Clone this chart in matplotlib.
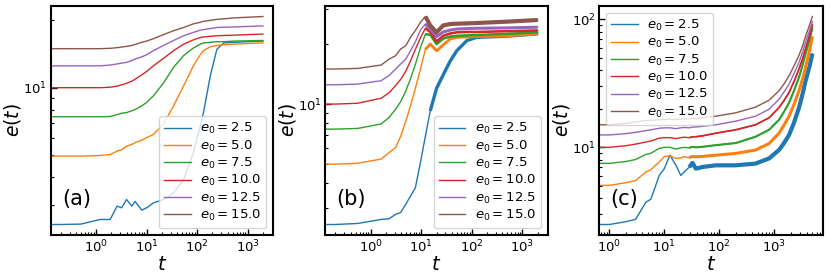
import matplotlib.pyplot as plt
import numpy as np
from matplotlib.ticker import NullFormatter

labels = [r"$e_0 = 2.5$", r"$e_0 = 5.0$", r"$e_0 = 7.5$",
          r"$e_0 = 10.0$", r"$e_0 = 12.5$", r"$e_0 = 15.0$"]

# panel (a)
t_a = [0, 0.2, 0.5, 1.2, 1.9, 2.6, 3.2, 4, 5.1, 5.9, 8, 10, 13.6, 21.6, 34, 54,
       84, 115, 133, 182, 245, 335, 525, 2000]
blue_a = [2.47, 2.47, 2.48, 2.6, 2.6, 2.98, 2.93, 3.19, 2.98, 3.13, 2.86, 2.93,
          3.08, 3.19, 3.41, 3.91, 5.14, 6.76, 7.74, 11.3, 14.8, 15.8, 15.9, 16.1]
orange_a = [4.97, 4.97, 4.97, 5.0, 5.05, 5.23, 5.3, 5.5, 5.6, 5.7, 5.85, 6.0,
            6.2, 6.9, 8.3, 10.2, 12.5, 14.0, 14.6, 15.2, 15.4, 15.5, 15.6, 15.8]
green_a = [7.43, 7.43, 7.43, 7.43, 7.45, 7.6, 7.7, 7.75, 7.9, 8.0, 8.3, 8.6,
           9.2, 10.5, 12.3, 13.9, 15.0, 15.6, 15.8, 15.9, 16.0, 16.0, 16.1, 16.2]
red_a = [10.0, 10.0, 10.0, 10.0, 10.05, 10.15, 10.3, 10.45, 10.7, 10.9, 11.4, 11.8,
         12.5, 13.5, 14.6, 15.6, 16.3, 16.7, 16.8, 16.9, 17.0, 17.05, 17.1, 17.3]
purple_a = [12.5, 12.5, 12.5, 12.5, 12.6, 12.75, 12.85, 12.95, 13.2, 13.4, 13.7, 14.0,
            14.6, 15.4, 16.2, 17.0, 17.6, 18.0, 18.1, 18.3, 18.5, 18.55, 18.6, 18.8]
brown_a = [14.9, 14.9, 14.9, 14.9, 14.95, 15.05, 15.15, 15.25, 15.4, 15.55, 15.9, 16.1,
           16.5, 17.2, 17.9, 18.5, 19.2, 19.5, 19.7, 19.9, 20.1, 20.2, 20.4, 20.7]

# panel (b)
t_b = [0, 0.2, 0.55, 1.6, 2.3, 3.1, 3.9, 4.9, 6.1, 7.6, 9.6, 12, 15, 20, 27, 37,
       50, 79, 123, 480, 2000]
blue_b = [2.49, 2.49, 2.52, 2.64, 2.66, 2.8, 2.86, 3.14, 3.46, 3.8, 5.1, 6.9,
          9.25, 12.0, 14.0, 16.4, 18.5, 20.8, 21.6, 21.9, 22.5]
orange_b = [5.0, 5.0, 5.05, 5.3, 5.72, 6.05, 6.9, 8.2, 9.8, 12.0, 15.0, 18.8,
            20.0, 18.5, 19.8, 21.2, 21.6, 21.7, 21.8, 22.0, 22.5]
green_b = [7.49, 7.49, 7.55, 7.95, 8.57, 9.44, 10.3, 11.6, 13.4, 15.8, 19.2, 22.4,
           22.3, 20.0, 21.3, 21.8, 22.0, 22.1, 22.2, 22.5, 22.9]
red_b = [10.0, 10.0, 10.1, 10.7, 11.4, 12.4, 13.3, 14.6, 16.5, 18.8, 21.5, 24.0,
         23.0, 20.6, 22.0, 22.6, 22.9, 23.0, 23.0, 23.2, 23.4]
purple_b = [12.5, 12.5, 12.6, 13.1, 13.9, 15.0, 15.9, 16.8, 18.5, 20.5, 23.5, 25.2,
            23.8, 21.8, 23.0, 23.5, 23.8, 23.9, 24.0, 24.1, 24.3]
brown_b = [15.0, 15.0, 15.1, 15.7, 16.8, 17.5, 18.9, 19.6, 21.6, 23.4, 25.7, 27.5,
           24.8, 22.9, 24.8, 25.2, 25.3, 25.4, 25.5, 25.9, 26.4]

# panel (c)
t_c = [0, 1, 2, 3, 4.6, 5.7, 8.1, 10, 12.7, 16.3, 20, 23, 28.5, 32.7, 37.6, 50,
       87, 200, 460, 810, 1230, 1500, 1880, 2300, 2850, 3300, 3760, 4400, 5000]
blue_c = [2.5, 2.5, 2.63, 2.74, 3.72, 3.94, 6.04, 6.82, 8.7, 7.24, 6.04, 6.42, 7.0,
          7.57, 6.82, 7.03, 7.24, 7.24, 7.47, 8.19, 9.53, 10.7, 12.5, 15.5, 20.4,
          25.9, 33.1, 42.2, 53.8]
orange_c = [5.03, 5.05, 5.3, 5.5, 6.41, 6.7, 7.7, 8.44, 8.6, 8.19, 8.3, 8.44, 8.3,
            8.5, 8.44, 8.5, 8.69, 8.97, 9.53, 10.7, 12.9, 14.8, 17.5, 21.5, 27.6,
            34.0, 42.2, 56.0, 73.0]
green_c = [7.47, 7.5, 7.75, 8.04, 8.8, 9.0, 9.82, 10.0, 10.0, 9.7, 9.9, 10.0, 9.9,
           10.1, 10.0, 10.1, 10.4, 10.8, 12.1, 13.7, 16.4, 18.8, 22.3, 27.5, 35.2,
           43.5, 53.8, 68.5, 85.0]
red_c = [10.0, 10.0, 10.3, 10.6, 11.0, 11.2, 11.8, 11.9, 11.9, 11.7, 11.9, 12.0, 11.9,
         12.1, 12.1, 12.3, 12.9, 13.7, 15.0, 17.0, 20.4, 23.0, 26.8, 32.5, 40.9,
         49.0, 58.9, 74.0, 90.2]
purple_c = [12.5, 12.5, 12.8, 13.1, 13.5, 13.7, 14.1, 14.2, 14.2, 14.0, 14.2, 14.3, 14.2,
            14.4, 14.4, 14.6, 15.0, 16.0, 17.5, 19.8, 23.7, 26.8, 31.1, 37.5, 46.2,
            55.0, 66.5, 80.5, 95.9]
brown_c = [15.0, 15.0, 15.4, 15.8, 16.2, 16.3, 16.4, 16.5, 16.6, 16.5, 16.6, 16.7, 16.7,
           16.8, 16.8, 17.0, 17.5, 18.6, 20.6, 23.3, 27.6, 31.0, 36.2, 43.0, 52.2,
           61.5, 73.8, 89.0, 105]

colors = ["C0", "C1", "C2", "C3", "C4", "C5"]

fig = plt.figure(figsize=(8.3, 2.77), dpi=100)
ax_a = fig.add_axes([0.061, 0.152, 0.268, 0.826])
ax_b = fig.add_axes([0.392, 0.152, 0.268, 0.826])
ax_c = fig.add_axes([0.722, 0.152, 0.269, 0.826])


def draw(ax, t, curves, tag, noisy_from, noisy_lw, loc):
    t = np.array(t)
    for ys, c, lab, lw, t0 in zip(curves, colors, labels, noisy_lw, noisy_from):
        ys = np.array(ys)
        ax.plot(t, ys, color=c, lw=1.0, label=lab)
        # late times are a noisy band in the original, drawn a bit thicker
        m = t >= t0
        if lw > 0:
            ax.plot(t[m], ys[m], color=c, lw=lw, solid_capstyle="butt")
    ax.set_xscale("log")
    ax.set_yscale("log")
    ax.yaxis.set_minor_formatter(NullFormatter())
    ax.tick_params(which="both", direction="in", labelsize=9.5, pad=2.5)
    ax.tick_params(which="major", length=4, width=1)
    ax.tick_params(which="minor", length=2.5, width=0.8)
    for s in ax.spines.values():
        s.set_linewidth(1.5)
    ax.set_xlabel(r"$t$", fontsize=14, labelpad=0)
    ax.set_ylabel(r"$e(t)$", fontsize=13.5, labelpad=0)
    ax.text(0.05, 0.155, tag, transform=ax.transAxes, fontsize=15, va="center")
    ax.legend(loc=loc, fontsize=9.5, handlelength=2.0, labelspacing=0.17,
              borderpad=0.4, handletextpad=0.7)


never = [1e9] * 6
draw(ax_a, t_a, [blue_a, orange_a, green_a, red_a, purple_a, brown_a],
     "(a)", never, [0, 0, 0, 0, 0, 0], "lower right")
draw(ax_b, t_b, [blue_b, orange_b, green_b, red_b, purple_b, brown_b],
     "(b)", [15, 12, 12, 12, 12, 12], [2.4, 2, 1.8, 1.8, 2.2, 3], "lower right")
draw(ax_c, t_c, [blue_c, orange_c, green_c, red_c, purple_c, brown_c],
     "(c)", [28, 28, 28, 28, 28, 28], [3, 2.2, 1.5, 1.2, 0, 0], "upper left")

fig.savefig("out.png", dpi=100)
